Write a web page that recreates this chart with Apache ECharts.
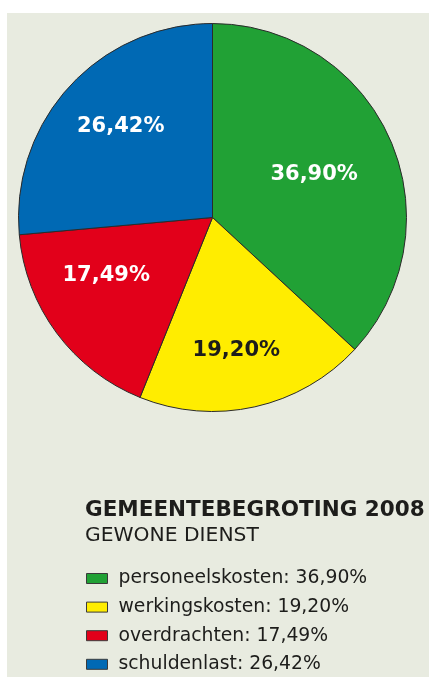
<!DOCTYPE html>
<html>
<head>
<meta charset="utf-8">
<script src="https://cdn.jsdelivr.net/npm/echarts@6/dist/echarts.min.js"></script>
<style>
  html, body { margin: 0; padding: 0; background: #fff; }
  #chart { width: 429px; height: 678px; }
</style>
</head>
<body>
<div id="chart"></div>
<script>
// gegevens
var categories = ['personeelskosten', 'werkingskosten', 'overdrachten', 'schuldenlast']
var percentages = [36.90, 19.20, 17.49, 26.42]
var titleText = 'GEMEENTEBEGROTING 2008'
var subtitleText = 'GEWONE DIENST'

// opmaak
var colors = ['#21a135', '#ffed00', '#e2001a', '#0069b4']
var labelColors = ['#ffffff', '#1d1d1b', '#ffffff', '#ffffff']
var labelOffsets = [[10, -3], [2, 35], [-26, -2], [-18, -23]]

function fmt(v) {
  return v.toFixed(2).replace('.', ',') + '%'
}

var pieData = categories.map(function (name, i) {
  return {
    name: name,
    value: percentages[i],
    itemStyle: { color: colors[i] },
    label: { color: labelColors[i], offset: labelOffsets[i] }
  }
})

var myChart = echarts.init(document.getElementById('chart'))
myChart.setOption({
  animation: false,
  graphic: [{
    type: 'rect',
    z: -10,
    shape: { x: 7, y: 13, width: 422, height: 664 },
    style: { fill: '#e8ebe0' }
  }],
  title: {
    text: titleText,
    subtext: subtitleText,
    left: 80,
    top: 494,
    itemGap: 5,
    textStyle: { fontFamily: 'DejaVu Sans', fontWeight: 'bold', fontSize: 21.5, color: '#1d1d1b' },
    subtextStyle: { fontFamily: 'DejaVu Sans', fontSize: 20.3, color: '#1d1d1b' }
  },
  legend: {
    orient: 'vertical',
    left: 86,
    top: 569,
    padding: 0,
    itemWidth: 21,
    itemHeight: 10,
    itemGap: 9.6,
    icon: 'rect',
    itemStyle: { borderColor: '#3a3a3a', borderWidth: 1 },
    textStyle: { fontFamily: 'DejaVu Sans', fontSize: 18.8, lineHeight: 19, color: '#1d1d1b', padding: [0, 0, 0, 6] },
    formatter: function (name) {
      var i = categories.indexOf(name)
      return name + ': ' + fmt(percentages[i])
    },
    data: categories
  },
  series: [{
    type: 'pie',
    center: [212.5, 217.5],
    radius: 194,
    startAngle: 90,
    clockwise: true,
    silent: true,
    itemStyle: { borderColor: '#2b2b2b', borderWidth: 1 },
    label: {
      position: 'inside',
      fontFamily: 'DejaVu Sans',
      fontWeight: 'bold',
      fontSize: 21,
      formatter: function (p) { return fmt(p.value) }
    },
    labelLine: { show: false },
    data: pieData
  }]
})
</script>
</body>
</html>
